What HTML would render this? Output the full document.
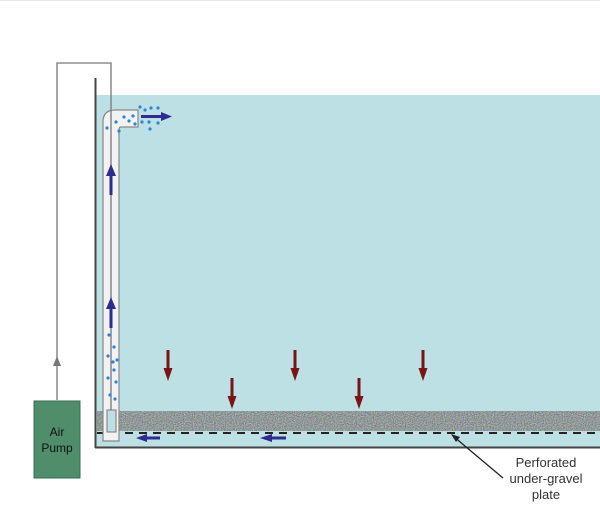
<!DOCTYPE html>
<html><head><style>
html,body{margin:0;padding:0;background:#fff;}
svg{display:block;}
text{font-family:"Liberation Sans",sans-serif;}
</style></head><body>
<svg width="600" height="510" viewBox="0 0 600 510" xmlns="http://www.w3.org/2000/svg">
<defs>
<filter id="n" x="0" y="0" width="100%" height="100%" color-interpolation-filters="sRGB">
<feTurbulence type="fractalNoise" baseFrequency="0.9" numOctaves="2" seed="3"/>
<feColorMatrix type="matrix" values="0.7 0 0 0 0.22  0 0.7 0 0 0.25  0 0 0.7 0 0.25  0 0 0 0 1"/>
</filter>
</defs>
<line x1="0" y1="0.5" x2="600" y2="0.5" stroke="#e6e6e6"/>
<rect x="96" y="95" width="504" height="352" fill="#bde0e4"/>
<rect x="97" y="411" width="503" height="20" fill="#8e9894"/>
<rect x="97" y="411" width="503" height="20" filter="url(#n)"/>
<line x1="97" y1="433" x2="600" y2="433" stroke="#222" stroke-width="2" stroke-dasharray="8,6"/>
<line x1="95.5" y1="78" x2="95.5" y2="448" stroke="#444" stroke-width="2"/>
<line x1="95" y1="447.5" x2="600" y2="447.5" stroke="#444" stroke-width="2"/>
<path d="M103,441 L103,122 Q103,110 115,110 L138,110 L138,127 L121,127 Q119,127 119,130 L119,441 Z" fill="#f2f2f2" stroke="#888" stroke-width="1.2"/>
<rect x="107" y="410" width="9" height="22" fill="#bde0e4" stroke="#777"/>
<path d="M57,400 L57,63 L111,63 L111,410" fill="none" stroke="#777" stroke-width="1.3"/>
<path d="M57,356 l-4,10 h8z" fill="#777"/>
<rect x="34" y="401" width="46" height="77" fill="#4f8d6b" stroke="#3a6b50"/>
<text x="57" y="436" font-size="12" fill="#111" text-anchor="middle">Air</text>
<text x="57" y="452" font-size="12" fill="#111" text-anchor="middle">Pump</text>
<g fill="#2b86d6">
<circle cx="116" cy="122" r="1.6"/><circle cx="124" cy="117" r="1.6"/><circle cx="129" cy="121" r="1.6"/><circle cx="133" cy="116" r="1.6"/><circle cx="135" cy="124" r="1.6"/><circle cx="119" cy="131" r="1.6"/><circle cx="107" cy="128" r="1.6"/>
<circle cx="140" cy="107" r="1.6"/><circle cx="145" cy="110" r="1.6"/><circle cx="151" cy="108" r="1.6"/><circle cx="158" cy="108" r="1.6"/><circle cx="142" cy="122" r="1.6"/><circle cx="149" cy="122" r="1.6"/><circle cx="158" cy="123" r="1.6"/><circle cx="150" cy="129" r="1.6"/>
<circle cx="109" cy="335" r="1.6"/><circle cx="114" cy="347" r="1.6"/><circle cx="108" cy="356" r="1.6"/><circle cx="113" cy="362" r="1.6"/><circle cx="114" cy="370" r="1.6"/><circle cx="108" cy="378" r="1.6"/><circle cx="116" cy="382" r="1.6"/><circle cx="110" cy="395" r="1.6"/><circle cx="115" cy="399" r="1.6"/><circle cx="117" cy="360" r="1.6"/>
</g>
<g fill="#2e2c8f" stroke="#2e2c8f">
<line x1="111" y1="195" x2="111" y2="175" stroke-width="3"/><path d="M106,176 L111,164 L116,176z" stroke="none"/>
<line x1="111" y1="328" x2="111" y2="308" stroke-width="3"/><path d="M106,309 L111,297 L116,309z" stroke="none"/>
<line x1="141" y1="116.5" x2="162" y2="116.5" stroke-width="3"/><path d="M161,112 L172,116.5 L161,121z" stroke="none"/>
<line x1="160" y1="438" x2="145" y2="438" stroke-width="3"/><path d="M147,434 L136,438 L147,442z" stroke="none"/>
<line x1="286" y1="438" x2="270" y2="438" stroke-width="3"/><path d="M272,434 L260,438 L272,442z" stroke="none"/>
</g>
<g fill="#7a1515" stroke="#7a1515">
<line x1="168" y1="350" x2="168" y2="370" stroke-width="3"/><path d="M163.5,368 L168,381 L172.5,368z" stroke="none"/>
<line x1="232" y1="378" x2="232" y2="398" stroke-width="3"/><path d="M227.5,396 L232,409 L236.5,396z" stroke="none"/>
<line x1="295" y1="350" x2="295" y2="370" stroke-width="3"/><path d="M290.5,368 L295,381 L299.5,368z" stroke="none"/>
<line x1="359" y1="378" x2="359" y2="398" stroke-width="3"/><path d="M354.5,396 L359,409 L363.5,396z" stroke="none"/>
<line x1="423" y1="350" x2="423" y2="370" stroke-width="3"/><path d="M418.5,368 L423,381 L427.5,368z" stroke="none"/>
</g>
<line x1="503" y1="478" x2="453" y2="436" stroke="#222" stroke-width="1.3"/>
<path d="M451,434 l9,3 l-4,5z" fill="#222"/>
<g font-size="13" fill="#333" text-anchor="middle">
<text x="546" y="467">Perforated</text>
<text x="546" y="483">under-gravel</text>
<text x="546" y="499">plate</text>
</g>
</svg>
</body></html>
